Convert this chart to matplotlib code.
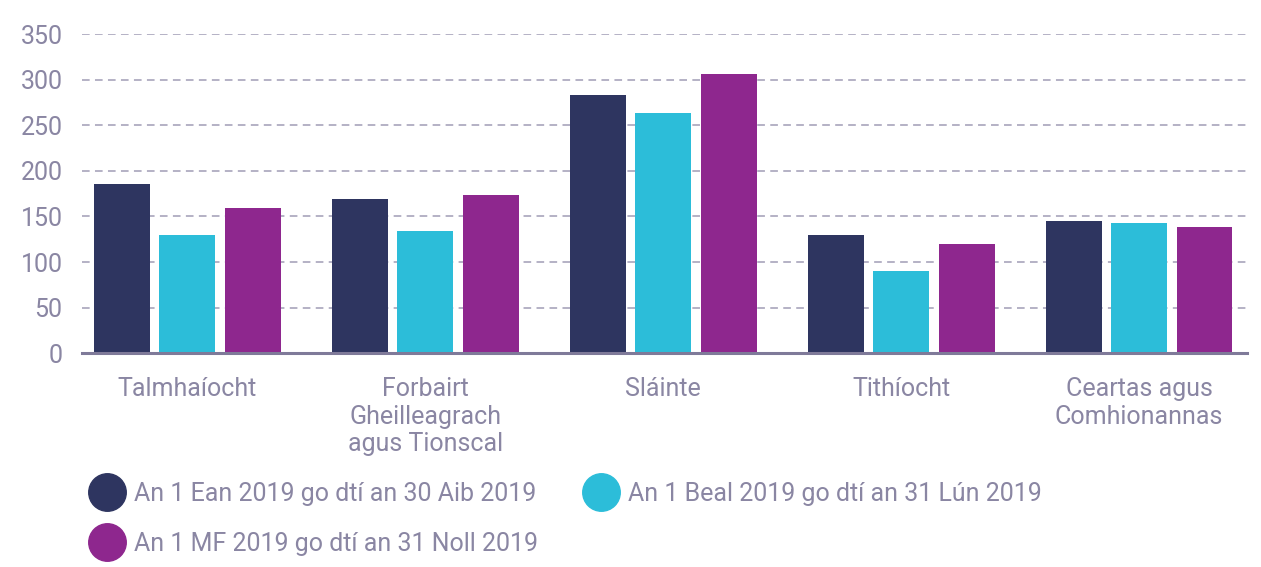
import numpy as np
import matplotlib.pyplot as plt
from matplotlib.lines import Line2D

plt.rcParams['font.family'] = ['Roboto', 'DejaVu Sans']

categories = ["Talmhaíocht", "Forbairt\nGheilleagrach\nagus Tionscal", "Sláinte",
              "Tithíocht", "Ceartas agus\nComhionannas"]
series_names = ["An 1 Ean 2019 go dtí an 30 Aib 2019",
                "An 1 Beal 2019 go dtí an 31 Lún 2019",
                "An 1 MF 2019 go dtí an 31 Noll 2019"]
jan_apr = [186, 169, 283, 130, 145]
may_aug = [130, 134, 263, 90, 143]
sep_dec = [159, 174, 306, 120, 138]
yticks = [0, 50, 100, 150, 200, 250, 300, 350]

colors = ["#2e3560", "#2cbdd9", "#8e278e"]
text_col = "#8a86a3"

fig = plt.figure(figsize=(12.61, 5.67), dpi=100)
ax = fig.add_axes([0.065, 0.377, 0.924, 0.563])

x = np.arange(len(categories))
w = 0.235
off = 0.275
for i, vals in enumerate([jan_apr, may_aug, sep_dec]):
    ax.bar(x + (i - 1) * off, vals, width=w, color=colors[i], zorder=3)

ax.set_xlim(-0.443, 4.454)
ax.set_ylim(0, 350)
ax.set_yticks(yticks)
ax.set_xticks(x)
ax.set_xticklabels(categories, linespacing=1.2)
ax.yaxis.grid(True, linestyle=(0, (5, 3.5)), color="#a09cb5", linewidth=1.1, zorder=0)
ax.set_axisbelow(True)

for s in ["top", "right", "left"]:
    ax.spines[s].set_visible(False)
ax.spines["bottom"].set_color("#7f7a99")
ax.spines["bottom"].set_linewidth(2.2)
ax.spines["bottom"].set_zorder(4)

ax.tick_params(axis="both", length=0, labelsize=18, labelcolor=text_col)
ax.tick_params(axis="y", pad=14)
ax.tick_params(axis="x", pad=17)

handles = [Line2D([], [], marker="o", linestyle="none", markersize=27,
                  markerfacecolor=c, markeredgecolor=c) for c in colors]
# fill row-wise: column 1 gets series 1 and 3, column 2 gets series 2
order = [0, 2, 1]
fig.legend([handles[k] for k in order], [series_names[k] for k in order],
           loc="upper left", bbox_to_anchor=(0.062, 0.168),
           ncol=2, frameon=False, fontsize=18, labelcolor=text_col,
           handletextpad=0.35, columnspacing=1.75, labelspacing=1.05,
           borderaxespad=0, handlelength=1.5)

fig.savefig("out.png", dpi=100)
